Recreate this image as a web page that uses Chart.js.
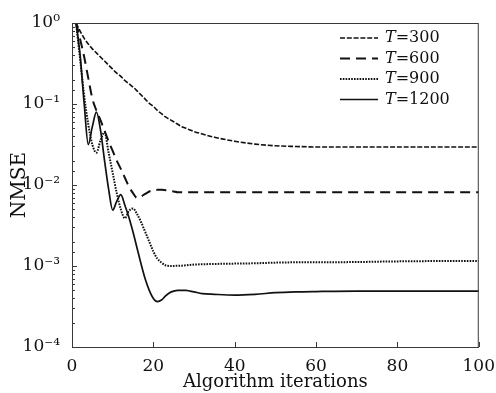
<!DOCTYPE html>
<html>
<head>
<meta charset="utf-8">
<script src="https://cdn.jsdelivr.net/npm/chart.js@4.4.0/dist/chart.umd.min.js"></script>
<style>
  html, body { margin: 0; padding: 0; background: #fff; }
</style>
</head>
<body>
<canvas id="myChart" width="496" height="393"></canvas>
<script>
// iteration numbers (x axis)
const iterations = [1, 2, 3, 4, 5, 6, 7, 8, 9, 10,
    11, 12, 13, 14, 15, 16, 17, 18, 19, 20,
    21, 22, 23, 24, 25, 26, 27, 28, 29, 30,
    32, 35, 40, 45, 50, 55, 60, 70, 80, 90, 100];

// NMSE, one array per T
const nmseT300 = [1.0, 0.794, 0.646, 0.550, 0.479, 0.427, 0.380, 0.339, 0.302, 0.269,
    0.240, 0.219, 0.195, 0.178, 0.162, 0.145, 0.129, 0.115, 0.102, 0.0933,
    0.0832, 0.0759, 0.0692, 0.0646, 0.0603, 0.0562, 0.0525, 0.0501, 0.0479, 0.0457,
    0.0427, 0.0389, 0.0347, 0.0320, 0.0305, 0.0299, 0.0295, 0.0295, 0.0295, 0.0295, 0.0295];
const nmseT600 = [1.0, 0.631, 0.380, 0.209, 0.117, 0.0832, 0.0631, 0.0468, 0.0347, 0.0263,
    0.0200, 0.0158, 0.0123, 0.00955, 0.00794, 0.00692, 0.00724, 0.00776, 0.00832, 0.00861,
    0.00871, 0.00871, 0.00861, 0.00851, 0.00832, 0.00813, 0.00813, 0.00813, 0.00813, 0.00813,
    0.00813, 0.00813, 0.00813, 0.00813, 0.00813, 0.00813, 0.00813, 0.00813, 0.00813, 0.00813, 0.00813];
const nmseT900 = [1.0, 0.355, 0.126, 0.0562, 0.0316, 0.0251, 0.0355, 0.0447, 0.0251, 0.0141,
    0.00794, 0.00501, 0.00389, 0.00479, 0.00513, 0.00437, 0.00347, 0.00263, 0.00200, 0.00151,
    0.00123, 0.00110, 0.00102, 0.00100, 0.00100, 0.00101, 0.00101, 0.00102, 0.00103, 0.00104,
    0.00105, 0.00106, 0.00107, 0.00108, 0.00110, 0.00111, 0.00111, 0.00112, 0.00114, 0.00115, 0.00115];
const nmseT1200 = [1.0, 0.398, 0.100, 0.0316, 0.0525, 0.0794, 0.0479, 0.0200, 0.00891, 0.00490,
    0.00631, 0.00759, 0.00562, 0.00398, 0.00263, 0.00166, 0.00105, 0.000692, 0.000501, 0.000398,
    0.000363, 0.000380, 0.000427, 0.000468, 0.000490, 0.000501, 0.000501, 0.000501, 0.000490, 0.000479,
    0.000457, 0.000447, 0.000437, 0.000447, 0.000468, 0.000479, 0.000484, 0.000490, 0.000490, 0.000490, 0.000490];

const seriesNames = ['300', '600', '900', '1200'];
const xTicks = [0, 20, 40, 60, 80, 100];

const serif = "'DejaVu Serif', 'Liberation Serif', serif";
const sup = { '0': '\u2070', '1': '\u00b9', '2': '\u00b2', '3': '\u00b3', '4': '\u2074', '-': '\u207b' };

function isPow10(v) {
    const e = Math.log10(v);
    return Math.abs(e - Math.round(e)) < 1e-9;
}

// box round the plot plus the small inward tick marks
const frameAndTicks = {
    id: 'frameAndTicks',
    afterDraw(chart) {
        const { ctx, chartArea: a, scales } = chart;
        ctx.save();
        ctx.strokeStyle = '#3a3a3a';
        ctx.lineWidth = 1;
        ctx.strokeRect(a.left + 0.5, a.top + 0.5, a.right - a.left - 1, a.bottom - a.top);
        ctx.beginPath();
        scales.x.ticks.forEach(t => {
            const px = Math.round(scales.x.getPixelForValue(t.value)) + 0.5;
            ctx.moveTo(px, a.bottom);
            ctx.lineTo(px, a.bottom - 5);
        });
        scales.y.ticks.forEach(t => {
            const py = Math.round(scales.y.getPixelForValue(t.value)) + 0.5;
            ctx.moveTo(a.left, py);
            ctx.lineTo(a.left + (isPow10(t.value) ? 5 : 3), py);
        });
        ctx.stroke();
        ctx.restore();
    }
};

// legend with italic T, as in the figure
const serifLegend = {
    id: 'serifLegend',
    afterDraw(chart) {
        const { ctx } = chart;
        ctx.save();
        chart.data.datasets.forEach((ds, i) => {
            const y = 38 + i * 20.5;
            ctx.strokeStyle = ds.borderColor;
            ctx.lineWidth = ds.borderWidth;
            ctx.setLineDash(ds.borderDash || []);
            ctx.beginPath();
            ctx.moveTo(340, y);
            ctx.lineTo(378, y);
            ctx.stroke();
            ctx.setLineDash([]);
            ctx.fillStyle = '#111';
            ctx.textBaseline = 'middle';
            ctx.font = 'italic 16px ' + serif;
            ctx.fillText('T', 385, y);
            const w = ctx.measureText('T').width;
            ctx.font = '16px ' + serif;
            ctx.fillText('=' + seriesNames[i], 385 + w, y);
        });
        ctx.restore();
    }
};

function myLoadFunction() {
    const ctx = document.getElementById('myChart').getContext('2d');
    const toPoints = arr => iterations.map((x, i) => ({ x: x, y: arr[i] }));

    const myChartConfig = {
        type: 'line',
        data: {
            datasets: [
                {
                    label: 'T=' + seriesNames[0],
                    data: toPoints(nmseT300),
                    borderColor: '#111',
                    borderWidth: 1.6,
                    borderDash: [5, 1.8]
                },
                {
                    label: 'T=' + seriesNames[1],
                    data: toPoints(nmseT600),
                    borderColor: '#111',
                    borderWidth: 2,
                    borderDash: [10, 6]
                },
                {
                    label: 'T=' + seriesNames[2],
                    data: toPoints(nmseT900),
                    borderColor: '#111',
                    borderWidth: 2,
                    borderDash: [1.6, 1.2]
                },
                {
                    label: 'T=' + seriesNames[3],
                    data: toPoints(nmseT1200),
                    borderColor: '#111',
                    borderWidth: 1.7
                }
            ]
        },
        options: {
            responsive: false,
            animation: false,
            devicePixelRatio: 1,
            elements: {
                point: { radius: 0 },
                line: { cubicInterpolationMode: 'monotone', fill: false }
            },
            layout: { padding: { top: 23, right: 14, left: 0, bottom: 0 } },
            plugins: {
                legend: { display: false },
                tooltip: { enabled: false }
            },
            scales: {
                x: {
                    type: 'linear',
                    min: 0,
                    max: 100,
                    afterBuildTicks: scale => { scale.ticks = xTicks.map(v => ({ value: v })); },
                    ticks: {
                        color: '#111',
                        font: { family: serif, size: 17 },
                        padding: 1,
                        maxRotation: 0
                    },
                    grid: { display: false },
                    border: { display: true, color: '#3a3a3a' },
                    title: {
                        display: true,
                        text: 'Algorithm iterations',
                        color: '#111',
                        font: { family: serif, size: 18 },
                        padding: { top: 0, bottom: 0 }
                    },
                    afterFit: scale => { scale.height = 46; }
                },
                y: {
                    type: 'logarithmic',
                    min: 1e-4,
                    max: 1,
                    ticks: {
                        color: '#111',
                        font: { family: serif, size: 17 },
                        padding: 4,
                        autoSkip: false,
                        callback: function (value) {
                            if (!isPow10(value)) return '';
                            const e = String(Math.round(Math.log10(value)));
                            return '10' + e.split('').map(c => sup[c]).join('');
                        }
                    },
                    grid: { display: false },
                    border: { display: true, color: '#3a3a3a' },
                    title: {
                        display: true,
                        text: 'NMSE',
                        color: '#111',
                        font: { family: serif, size: 20 },
                        padding: { top: 8, bottom: 0 }
                    },
                    afterFit: scale => { scale.width = 72; }
                }
            }
        },
        plugins: [frameAndTicks, serifLegend]
    };
    const myChart = new Chart(ctx, myChartConfig);
}

document.addEventListener('DOMContentLoaded', myLoadFunction);
</script>
</body>
</html>
